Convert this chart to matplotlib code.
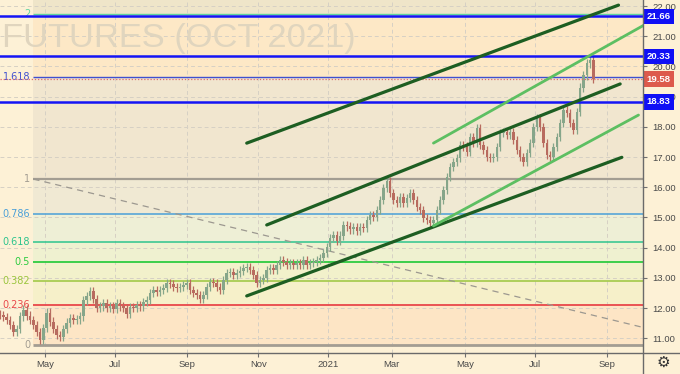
import numpy as np
import pandas as pd
import matplotlib
matplotlib.use("Agg")
import matplotlib.pyplot as plt
from matplotlib.lines import Line2D
from matplotlib.transforms import blended_transform_factory

# trading calendar (ICE US softs) - one candle drawn every 2 sessions
start_date = "2020-03-24"
holidays = ["2020-04-10", "2020-05-25", "2020-07-03", "2020-09-07", "2020-11-26",
            "2020-12-25", "2021-01-01", "2021-01-18", "2021-02-15", "2021-04-02",
            "2021-05-31", "2021-07-05", "2021-09-06"]
sessions_per_candle = 2

# closes
closes = [11.77, 11.70, 11.60, 11.44, 11.20, 11.30, 11.72, 11.95, 11.75, 11.60,
          11.44, 11.20, 10.95, 11.34, 11.85, 11.55, 11.30, 11.10, 11.05, 11.30,
          11.52, 11.67, 11.60, 11.62, 11.72, 12.25, 12.40, 12.55, 12.30, 12.00,
          12.05, 12.15, 12.00, 12.05, 11.98, 12.15, 12.05, 12.00, 11.80, 12.03,
          12.00, 12.10, 12.05, 12.20, 12.26, 12.50, 12.60, 12.53, 12.60, 12.66,
          12.83, 12.80, 12.70, 12.66, 12.70, 12.76, 12.83, 12.60, 12.50, 12.43,
          12.30, 12.43, 12.70, 12.86, 12.83, 12.70, 12.60, 12.93, 13.16, 13.20,
          13.10, 13.16, 13.24, 13.32, 13.36, 13.26, 13.09, 12.83, 12.93, 13.00,
          13.26, 13.32, 13.26, 13.42, 13.59, 13.52, 13.42, 13.49, 13.42, 13.49,
          13.42, 13.59, 13.42, 13.49, 13.52, 13.59, 13.66, 13.82, 14.02, 14.32,
          14.42, 14.22, 14.40, 14.75, 14.70, 14.60, 14.68, 14.55, 14.68, 14.65,
          14.91, 15.08, 15.02, 15.25, 15.58, 15.97, 16.20, 15.81, 15.58, 15.48,
          15.68, 15.48, 15.65, 15.81, 15.58, 15.34, 15.25, 14.98, 14.91, 14.81,
          14.91, 15.25, 15.58, 15.91, 16.34, 16.67, 16.83, 16.97, 17.40, 17.35,
          17.17, 17.66, 17.46, 17.95, 17.40, 17.23, 17.00, 16.97, 17.00, 17.33,
          17.79, 17.83, 17.73, 17.83, 17.56, 17.23, 17.00, 16.83, 17.13, 17.46,
          17.99, 18.30, 17.99, 17.46, 17.07, 17.00, 17.33, 17.66, 18.13, 18.56,
          18.46, 18.13, 17.90, 18.50, 19.30, 19.70, 20.10, 20.20, 19.58]
first_open = 11.80
wick = 0.14

# fibonacci retracement
fib_ratios = [0, 0.236, 0.382, 0.5, 0.618, 0.786, 1, 1.618, 2]
fib_labels = ["0", "0.236", "0.382", "0.5", "0.618", "0.786", "1", "1.618", "2"]
fib_low, fib_high = 10.79, 16.27
fib_start = "2020-04-22"
fib_trend = [("2020-04-22", 16.27), ("2021-10-05", 11.34)]

# horizontal levels and last price
levels = [21.66, 20.33, 18.83]
last_price = 19.58

# channel lines (date, price)
dark_lines = [[("2020-10-22", 17.46), ("2021-09-13", 22.03)],
              [("2020-11-09", 14.75), ("2021-09-14", 19.42)],
              [("2020-10-22", 12.40), ("2021-09-15", 16.99)]]
light_lines = [[("2021-04-06", 17.46), ("2021-10-05", 21.39)],
               [("2021-04-06", 14.72), ("2021-09-29", 18.39)]]

tick_months = ["2020-05", "2020-07", "2020-09", "2020-11", "2021-01",
               "2021-03", "2021-05", "2021-07", "2021-09"]
tick_labels = ["May", "Jul", "Sep", "Nov", "2021", "Mar", "May", "Jul", "Sep"]
price_ticks = list(range(11, 23))

days = pd.bdate_range(start_date, "2021-12-31", freq="C", holidays=holidays)


def bar(date):
    return days.searchsorted(pd.Timestamp(date))


bg = "#fdf1d6"
fig = plt.figure(figsize=(6.8, 3.74), dpi=100, facecolor=bg)
ax = fig.add_axes([0, 21 / 374, 643 / 680, 353 / 374])
ax.set_facecolor(bg)
xmax = 385.7
ax.set_xlim(0, xmax)
ax.set_ylim(10.51, 22.2)

# fib bands
fx = bar(fib_start)
fib_prices = [fib_low + r * (fib_high - fib_low) for r in fib_ratios]
band_colors = ["#fde5c5", "#f6f0c9", "#f2f1cb", "#eff1d0", "#eeefd6",
               "#f0e9d3", "#f1e6cf", "#fde8c6"]
for i, c in enumerate(band_colors):
    ax.fill_between([fx, xmax + 5], fib_prices[i], fib_prices[i + 1], color=c, lw=0, zorder=0.5)
ax.fill_between([fx, xmax + 5], fib_prices[-1], 23, color="#efe5c9", lw=0, zorder=0.5)

# grid
xt = [bar(m + "-01") for m in tick_months]
for x in xt:
    ax.axvline(x, color="#d6d0c4", lw=0.7, ls=(0, (4, 3)), zorder=1)
for y in price_ticks:
    ax.axhline(y, color="#d6d0c4", lw=0.7, ls=(0, (4, 3)), zorder=1)

# watermark
ax.text(0.003, 0.867, "FUTURES (OCT 2021)", transform=ax.transAxes, fontsize=24.8,
        family="Liberation Sans", color="#e0d5be", ha="left", va="baseline", zorder=1.5)

# fib lines and labels
fib_colors = ["#a39d92", "#e8474a", "#9bc53d", "#2ecc40", "#2dc48d", "#4a9fd8",
              "#a39d92", "#4050d0", "#5fd3a0"]
fib_widths = [2.0, 1.3, 1.1, 1.3, 1.1, 1.1, 1.6, 1.0, 1.0]
for p, lab, c, w in zip(fib_prices, fib_labels, fib_colors, fib_widths):
    ax.hlines(p, fx, xmax + 5, color=c, lw=w, zorder=2)
    ax.text(fx - 2, p, lab, color=c, fontsize=7, ha="right", va="center", zorder=2)
ax.plot([bar(d) for d, _ in fib_trend], [p for _, p in fib_trend], color="#9c9890",
        lw=0.9, ls=(0, (5, 4)), zorder=2)

# candles
closes = np.array(closes)
opens = np.concatenate([[first_open], closes[:-1]])
xs = np.arange(len(closes)) * sessions_per_candle
up = closes >= opens
colors = np.where(up, "#86a68a", "#b86b5f")
hi = np.maximum(opens, closes) + wick
lo = np.minimum(opens, closes) - wick
ax.vlines(xs, lo, hi, colors=colors, lw=0.9, zorder=3)
body = np.maximum(np.abs(closes - opens), 0.04)
ax.bar(xs, body, bottom=np.minimum(opens, closes), width=1.5, color=colors, lw=0, zorder=3)

# horizontal levels
for lv in levels:
    ax.axhline(lv, color="#1414f5", lw=1.8, zorder=4)
ax.axhline(last_price, color="#e06a6a", lw=0.9, ls=(0, (1, 1.5)), zorder=4)

# channel lines
for seg in dark_lines:
    ax.plot([bar(d) for d, _ in seg], [p for _, p in seg], color="#1d5e22", lw=2.3,
            solid_capstyle="round", zorder=5)
for seg in light_lines:
    ax.plot([bar(d) for d, _ in seg], [p for _, p in seg], color="#5dbf62", lw=2.0,
            solid_capstyle="round", zorder=5)

# axes
for s in ax.spines.values():
    s.set_visible(False)
ax.yaxis.tick_right()
ax.set_yticks(price_ticks)
ax.set_yticklabels([f"{v:.2f}" for v in price_ticks])
ax.set_xticks(xt)
ax.set_xticklabels(tick_labels)
ax.tick_params(axis="both", length=3, width=0.8, color="#707070", labelsize=6.8,
               labelcolor="#4a4a4a", pad=2)
ax.tick_params(axis="y", pad=4)
for t in ax.get_xticklabels() + ax.get_yticklabels():
    t.set_family("Liberation Sans")

fig.add_artist(Line2D([0, 1], [21 / 374, 21 / 374], color="#6a6a6a", lw=1.0,
                      transform=fig.transFigure))
fig.add_artist(Line2D([643 / 680, 643 / 680], [0, 1], color="#6a6a6a", lw=1.0,
                      transform=fig.transFigure))

# price labels on the right scale
tr = blended_transform_factory(ax.transAxes, ax.transData)
for lv in levels:
    ax.text(1.006, lv, f"{lv:.2f}", transform=tr, color="white", fontsize=6.8,
            fontweight="bold", family="Liberation Sans", ha="left", va="center",
            clip_on=False, zorder=10,
            bbox=dict(boxstyle="square,pad=0.35", fc="#1010f5", ec="none"))
ax.text(1.006, last_price, f"{last_price:.2f}", transform=tr, color="white", fontsize=6.8,
        fontweight="bold", family="Liberation Sans", ha="left", va="center",
        clip_on=False, zorder=10,
        bbox=dict(boxstyle="square,pad=0.35", fc="#dd5a4c", ec="none"))

fig.text(663 / 680, 1 - 362 / 374, "\u2699", fontsize=11, color="#333333",
         ha="center", va="center", family="DejaVu Sans")

fig.savefig("out.png", dpi=100, facecolor=bg)
